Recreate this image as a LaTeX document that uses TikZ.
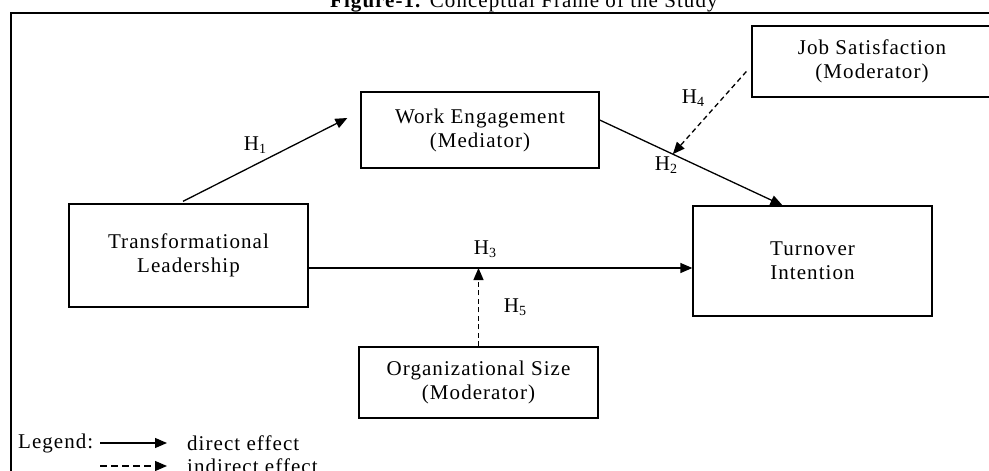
\documentclass[tikz,border=0pt]{standalone}
\usepackage{fontspec}
\setmainfont{Liberation Serif}[LetterSpace=5]
\usetikzlibrary{arrows.meta,calc}
\newcommand\Hsub[1]{H\raisebox{-3.5pt}{\fontsize{14}{14}\selectfont #1}}
\begin{document}
\begin{tikzpicture}[x=1pt,y=-1pt,
  every node/.style={font=\fontsize{21}{24}\selectfont, text=black},
  box/.style={draw, line width=1.3pt, align=center, inner sep=0pt},
  arr/.style={line width=1.3pt, -{Triangle[length=12pt,width=10pt]}},
  darr/.style={arr, dash pattern=on 5pt off 3.5pt},
  lbl/.style={inner sep=0pt}
]
\useasboundingbox (0,0) rectangle (989,471);
\node[anchor=base west, inner sep=0pt] (title) at (330,7) {\textbf{Figure-1.} Conceptual Frame of the Study};
\draw[line width=2pt] (11,13) rectangle (1000,500);

\node[box, minimum width=239pt, minimum height=103pt] (tl) at (188.5,255.5) {Transformational\\Leadership};
\node[box, minimum width=238pt, minimum height=76pt] (we) at (480,130) {Work Engagement\\(Mediator)};
\node[box, minimum width=239pt, minimum height=110pt] (ti) at (812.5,261) {Turnover\\Intention};
\node[box, minimum width=240pt, minimum height=71pt] (js) at (872,61.5) {Job Satisfaction\\(Moderator)};
\node[box, minimum width=239pt, minimum height=71pt] (os) at (478.5,382.5) {Organizational Size\\(Moderator)};

% H1
\draw[arr] ([xshift=-5.5pt,yshift=2pt]tl.north) -- ([xshift=-13pt,yshift=12pt]we.west);
% H2
\coordinate (h2s) at ([yshift=10pt]we.east);
\coordinate (h2e) at ([xshift=-30pt]ti.north);
\draw[arr] (h2s) -- (h2e);
% H3
\coordinate (h3s) at ([yshift=-12.5pt]tl.east);
\coordinate (h3e) at ([yshift=-7pt]ti.west);
\draw[arr] (h3s) -- (h3e);
% H4
\path (h2s) -- (h2e) coordinate[pos=0.40] (h4end);
\draw[darr] ([xshift=-5pt,yshift=-10pt]js.west) -- (h4end);
% H5
\path (h3s) -- (h3e) coordinate[pos=0.44] (h5end);
\draw[darr] (os.north) -- (os.north |- h5end);

\node[lbl] (l1) at (255,145) {\Hsub{1}};
\node[lbl] (l2) at (666,165) {\Hsub{2}};
\node[lbl] (l3) at (485,249) {\Hsub{3}};
\node[lbl] (l4) at (693,98) {\Hsub{4}};
\node[lbl] (l5) at (515,307) {\Hsub{5}};

% Legend
\node[lbl, anchor=west] (leg) at (18,443) {Legend:};
\coordinate (la1) at (100,443);
\coordinate (la2) at (167,443);
\draw[arr] (la1) -- (la2);
\node[lbl, anchor=west] (de) at (187,443) {direct effect};
\coordinate (lb1) at (100,466);
\coordinate (lb2) at (167,466);
\draw[darr, dash pattern=on 7pt off 4pt] (lb1) -- (lb2);
\node[lbl, anchor=west] (ie) at (187,466) {indirect effect};
\end{tikzpicture}
\end{document}
